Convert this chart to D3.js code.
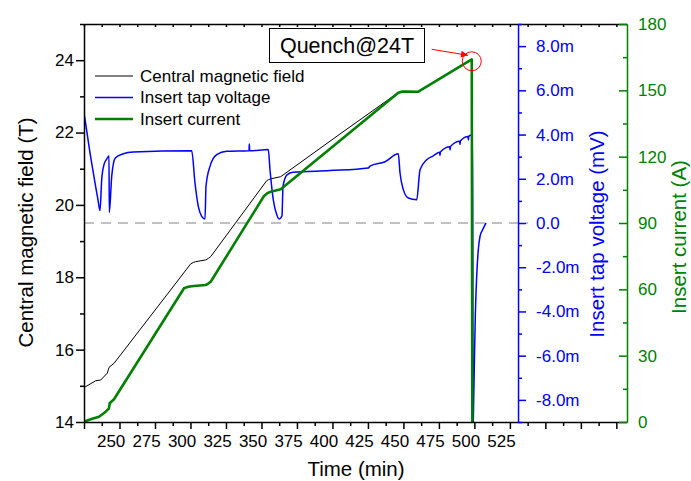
<!DOCTYPE html>
<html>
<head>
  <meta charset="utf-8">
  <title>Quench@24T</title>
  <script src="https://d3js.org/d3.v7.min.js"></script>
  <style>
    body { margin: 0; background: #fff; }
    svg { font-family: Arial, "Liberation Sans", sans-serif; }
  </style>
</head>
<body>
<svg id="chart"></svg>
<script>
// values: [time (min), value]
var fieldData = [[231.25,14.95],[239.49,15.14],[243.01,15.16],[247.66,15.35],[248.51,15.46],[248.86,15.51],
  [252.38,15.62],[306.41,18.37],[308.2,18.41],[309.93,18.43],[316.98,18.48],[318.8,18.52],[320.5,18.57],
  [359.95,20.67],[361.3,20.70],[362.77,20.72],[369.81,20.78],[411.6,21.96],[450.3,23.04],[452.7,23.1],
  [455.24,23.12],[466.75,23.13],[504.39,24.02],[504.81,13.5]];

// insert tap voltage, mV
var voltageData = [[231.25,4.99],[235.48,3.17],[239.0,1.82],[241.11,1.05],[242.52,0.56],[243.72,1.96],
  [245.34,2.64],[247.24,2.89],[248.86,3.04],[249.07,0.48],[250.77,2.11],[253.29,2.94],[258.93,3.13],
  [265.98,3.21],[307.12,3.27],[309.44,1.81],[311.77,0.75],[314.16,0.30],[316.49,0.18],[317.19,1.66],
  [320.0,2.56],[324.73,3.09],[331.77,3.24],[347.48,3.27],[347.69,3.57],[347.97,3.27],[361.07,3.32],
  [362.27,2.41],[364.6,1.05],[366.99,0.38],[368.61,0.18],[370.73,0.33],[371.43,1.66],[374.25,2.18],
  [378.47,2.29],[404.54,2.37],[431.52,2.49],[432.72,2.57],[443.29,2.77],[452.66,3.13],[453.86,2.26],
  [456.18,1.51],[459.7,1.13],[465.62,1.05],[467.95,2.41],[472.67,2.86],[477.31,3.04],[481.8,3.2],
  [482.0,3.05],[482.3,3.21],[488.9,3.45],[489.1,3.3],[489.4,3.46],[495.9,3.7],[496.1,3.55],[496.4,3.71],
  [501.8,3.91],[502.0,3.75],[502.3,3.92],[503.16,3.96],[505.0,3.99],[505.3,-9.5],[505.49,-8.9],
  [506.19,-6.49],[506.89,-4.22],[507.87,-2.41],[509.0,-1.21],[510.2,-0.61],[512.1,-0.30],[514.4,0.0]];

// insert current, A
var currentData = [[231.25,0.14],[235.97,1.22],[241.82,2.40],[246.54,4.66],[248.86,6.2],[249.35,8.46],
  [252.38,10.27],[301.69,60.47],[303.8,61.0],[305.92,61.28],[308.7,61.5],[316.98,61.96],[318.8,62.6],
  [320.5,63.45],[358.05,102.2],[360.4,103.5],[362.77,104.15],[369.81,105.24],[452.66,148.93],
  [455.0,149.4],[457.38,149.5],[466.75,149.38],[504.39,164.03],[504.81,-5]];

var timeLabels = [250,275,300,325,350,375,400,425,450,475,500,525];
var fieldTicks = [14,16,18,20,22,24];
var fieldMinor = [15,17,19,21,23,25];
var voltTicks = [-8,-6,-4,-2,0,2,4,6,8];
var voltMinor = [-9,-7,-5,-3,-1,1,3,5,7,9];
var currentTicks = [0,30,60,90,120,150,180];
var currentMinor = [15,45,75,105,135,165];
var legendNames = ["Central magnetic field","Insert tap voltage","Insert current"];

var blue = "#0000ff", green = "#008000";

var svg = d3.select("#chart").attr("width", 691).attr("height", 481);

var pLeft = 84, pRight = 627, pTop = 24, pBottom = 422;

var x = d3.scaleLinear().domain([231.25, 613.75]).range([pLeft, pRight]);
var yField = d3.scaleLinear().domain([14, 25]).range([pBottom, pTop]);
var yVolt = d3.scaleLinear().domain([-9, 9]).range([pBottom, pTop]);
var yCur = d3.scaleLinear().domain([0, 180]).range([pBottom, pTop]);

// tick marks on the time axis sit between the labels
var timeMajor = d3.range(231.25, 614, 25);
var timeMinor = d3.range(243.75, 614, 25);

var defs = svg.append("defs");
defs.append("clipPath").attr("id", "plot-clip")
  .append("rect").attr("x", pLeft).attr("y", pTop)
  .attr("width", pRight - pLeft).attr("height", pBottom - pTop);

defs.append("marker")
  .attr("id", "arrow").attr("viewBox", "0 0 10 10")
  .attr("refX", 10).attr("refY", 5)
  .attr("markerWidth", 13).attr("markerHeight", 7)
  .attr("markerUnits", "userSpaceOnUse")
  .attr("orient", "auto")
  .append("path").attr("d", "M0,0L10,5L0,10Z").attr("fill", "red");

// zero line of the voltage
svg.append("line")
  .attr("x1", x(231.25)).attr("x2", x(544))
  .attr("y1", yVolt(0)).attr("y2", yVolt(0))
  .attr("stroke", "#c0c0c0").attr("stroke-width", 2)
  .attr("stroke-dasharray", "10,7");

var plot = svg.append("g").attr("clip-path", "url(#plot-clip)");

plot.append("path").datum(fieldData)
  .attr("fill", "none").attr("stroke", "#000").attr("stroke-width", 1)
  .attr("d", d3.line().x(d => x(d[0])).y(d => yField(d[1])));

plot.append("path").datum(voltageData)
  .attr("fill", "none").attr("stroke", blue).attr("stroke-width", 1.5)
  .attr("d", d3.line().curve(d3.curveMonotoneX).x(d => x(d[0])).y(d => yVolt(d[1])));

plot.append("path").datum(currentData)
  .attr("fill", "none").attr("stroke", green).attr("stroke-width", 2.6)
  .attr("stroke-linejoin", "round")
  .attr("d", d3.line().x(d => x(d[0])).y(d => yCur(d[1])));

// axes
function styleAxis(g, color) {
  g.attr("font-family", null).attr("font-size", 17);
  g.selectAll("path, line").attr("stroke", color).attr("stroke-width", 1.5);
  g.selectAll("text").attr("fill", color);
}

// bottom
svg.append("g").attr("transform", "translate(0," + pBottom + ")")
  .call(d3.axisBottom(x).tickValues(timeMajor).tickSize(7).tickSizeOuter(0).tickFormat(""))
  .call(g => styleAxis(g, "#000"));
svg.append("g").attr("transform", "translate(0," + pBottom + ")")
  .call(d3.axisBottom(x).tickValues(timeMinor).tickSize(4).tickFormat(""))
  .call(g => { g.select(".domain").remove(); styleAxis(g, "#000"); });
svg.append("g").attr("transform", "translate(0," + pBottom + ")")
  .call(d3.axisBottom(x).tickValues(timeLabels).tickSize(0).tickPadding(13).tickFormat(d3.format("d")))
  .call(g => { g.select(".domain").remove(); g.selectAll("line").remove(); styleAxis(g, "#000"); });

// top
svg.append("g").attr("transform", "translate(0," + pTop + ")")
  .call(d3.axisTop(x).tickValues(timeMajor.concat(timeMinor)).tickSizeInner(-3).tickSizeOuter(0).tickFormat(""))
  .call(g => styleAxis(g, "#000"));

// left
svg.append("g").attr("transform", "translate(" + pLeft + ",0)")
  .call(d3.axisLeft(yField).tickValues(fieldTicks).tickSize(8).tickPadding(2).tickSizeOuter(0).tickFormat(d3.format("d")))
  .call(g => styleAxis(g, "#000"));
svg.append("g").attr("transform", "translate(" + pLeft + ",0)")
  .call(d3.axisLeft(yField).tickValues(fieldMinor).tickSize(4).tickFormat(""))
  .call(g => { g.select(".domain").remove(); styleAxis(g, "#000"); });

// voltage axis
var xv = x(537);
svg.append("g").attr("transform", "translate(" + xv + ",0)")
  .call(d3.axisRight(yVolt).tickValues(voltTicks).tickSize(8).tickPadding(10).tickSizeOuter(0)
    .tickFormat(d => d === 0 ? "0.0" : d.toFixed(1) + "m"))
  .call(g => styleAxis(g, blue));
svg.append("g").attr("transform", "translate(" + xv + ",0)")
  .call(d3.axisRight(yVolt).tickValues(voltMinor).tickSize(4).tickFormat(""))
  .call(g => { g.select(".domain").remove(); styleAxis(g, blue); });

// current axis
svg.append("g").attr("transform", "translate(" + pRight + ",0)")
  .call(d3.axisRight(yCur).tickValues(currentTicks).tickSizeInner(-8).tickPadding(11).tickSizeOuter(0).tickFormat(d3.format("d")))
  .call(g => styleAxis(g, green));
svg.append("g").attr("transform", "translate(" + pRight + ",0)")
  .call(d3.axisRight(yCur).tickValues(currentMinor).tickSizeInner(-4).tickFormat(""))
  .call(g => { g.select(".domain").remove(); styleAxis(g, green); });

// axis titles
svg.append("text").attr("x", 356).attr("y", 476).attr("text-anchor", "middle")
  .attr("font-size", 20.5).text("Time (min)");
svg.append("text").attr("transform", "translate(33,232.5) rotate(-90)").attr("text-anchor", "middle")
  .attr("font-size", 20.5).text("Central magnetic field (T)");
svg.append("text").attr("transform", "translate(604,234) rotate(-90)").attr("text-anchor", "middle")
  .attr("font-size", 20.5).attr("fill", blue).text("Insert tap voltage (mV)");
svg.append("text").attr("transform", "translate(686,237) rotate(-90)").attr("text-anchor", "middle")
  .attr("font-size", 20.5).attr("fill", green).text("Insert current (A)");

// legend
var legendColors = ["#000", blue, green];
var legendWidths = [1, 1.3, 2.6];
var legend = svg.append("g").selectAll("g").data(legendNames).join("g")
  .attr("transform", (d, i) => "translate(95," + (76 + i * 21.5) + ")");
legend.append("line").attr("x1", 0).attr("x2", 38)
  .attr("stroke", (d, i) => legendColors[i]).attr("stroke-width", (d, i) => legendWidths[i]);
legend.append("text").attr("x", 45).attr("dy", "0.35em").attr("font-size", 17).text(d => d);

// quench annotation
svg.append("rect").attr("x", 269.5).attr("y", 28.5).attr("width", 155).attr("height", 34)
  .attr("fill", "#fff").attr("stroke", "#000").attr("stroke-width", 1);
svg.append("text").attr("x", 347).attr("y", 52.5).attr("text-anchor", "middle")
  .attr("font-size", 21.5).text("Quench@24T");
svg.append("circle").attr("cx", x(504.4)).attr("cy", yField(23.97)).attr("r", 9.5)
  .attr("fill", "none").attr("stroke", "red").attr("stroke-width", 1);
svg.append("line").attr("x1", 431.7).attr("y1", 49.3).attr("x2", 468).attr("y2", 55.3)
  .attr("stroke", "red").attr("stroke-width", 1).attr("marker-end", "url(#arrow)");
</script>
</body>
</html>
